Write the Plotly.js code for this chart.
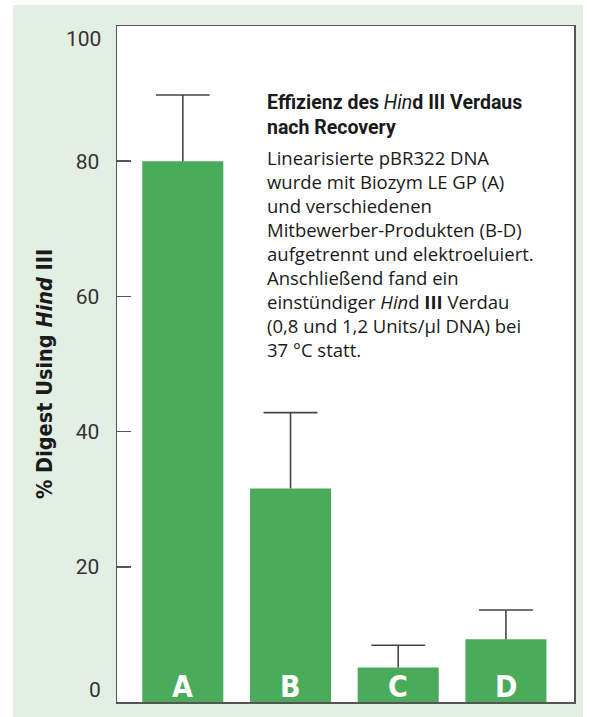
<!DOCTYPE html>
<html>
<head>
<meta charset="utf-8">
<script src="https://cdn.plot.ly/plotly-3.0.1.min.js"></script>
<style>
html,body{margin:0;padding:0;background:#fff;width:590px;height:717px;overflow:hidden;}
#chart{position:absolute;left:13px;top:5px;width:570px;height:712px;}
</style>
</head>
<body>
<div id="chart"></div>
<script>
// Data
var categories = ['A', 'B', 'C', 'D'];
var digestValues = [80.0, 31.6, 5.1, 9.3];
var errorPlus = [9.8, 11.2, 3.3, 4.3];
var tickValues = [20, 40, 60, 80];
var tickLabels = ['20', '40', '60', '80'];
var edgeTickValues = [0, 100];
var edgeTickLabels = ['0', '100'];
var yTitle = '% Digest Using <i>Hind</i> III';
var boxTitle = 'Effizienz des <i style="font-weight:normal">Hin</i>d III Verdaus<br>nach Recovery';
var boxText = 'Linearisierte pBR322 DNA<br>wurde mit Biozym LE GP (A)<br>und verschiedenen<br>Mitbewerber-Produkten (B-D)<br>aufgetrennt und elektroeluiert.<br>Anschließend fand ein<br>einstündiger <i>Hin</i>d <b>III</b> Verdau<br>(0,8 und 1,2 Units/µl DNA) bei<br>37 °C statt.';

var green = '#4aab5a';
var axisColor = '#555555';
var errColor = '#444444';
var tickFont = {family: 'Roboto, "Open Sans", sans-serif', size: 21, color: '#333333'};

// category index positions on a linear axis (needed for error-bar caps)
var xPos = categories.map(function(c, i){ return i; });
var tops = digestValues.map(function(v, i){ return v + errorPlus[i]; });

var barTrace = {
  type: 'bar',
  x: xPos,
  y: digestValues,
  width: 0.752,
  marker: {color: green, line: {width: 0}},
  error_y: {
    type: 'data',
    symmetric: false,
    array: errorPlus,
    arrayminus: categories.map(function(){return 0;}),
    color: errColor,
    thickness: 1.6,
    width: 0
  },
  hoverinfo: 'none'
};

// caps of the error bars (horizontal whiskers at the top)
var capTrace = {
  type: 'scatter',
  mode: 'markers',
  x: xPos,
  y: tops,
  marker: {size: 2, color: 'rgba(0,0,0,0)'},
  error_x: {
    visible: true,
    type: 'constant',
    value: 0.25,
    color: errColor,
    thickness: 1.6,
    width: 0
  },
  hoverinfo: 'none'
};

var annotations = [];
categories.forEach(function(c, i){
  annotations.push({
    x: xPos[i], y: 0, xref: 'x', yref: 'y',
    text: '<b>' + c + '</b>',
    showarrow: false, xanchor: 'center', yanchor: 'bottom', yshift: -4,
    font: {family: '"Liberation Sans Narrow", "DejaVu Sans Condensed", Roboto, sans-serif', size: 30, color: '#ffffff'}
  });
});
edgeTickValues.forEach(function(v, i){
  annotations.push({
    x: 0, y: v, xref: 'paper', yref: 'y',
    text: edgeTickLabels[i],
    showarrow: false, xanchor: 'right', yanchor: 'middle',
    xshift: -14, yshift: v === 0 ? 12 : -13,
    font: tickFont
  });
});
annotations.push({
  x: -0.16, y: 0.485, xref: 'paper', yref: 'paper',
  text: '<b>' + yTitle + '</b>',
  textangle: -90, showarrow: false, xanchor: 'center', yanchor: 'middle',
  font: {family: '"Liberation Sans Narrow", "DejaVu Sans Condensed", Roboto, sans-serif', size: 21.5, color: '#1a1a1a'}
});
annotations.push({
  x: 0.3239, y: (702 - 89) / 676, xref: 'paper', yref: 'paper',
  text: '<b>' + boxTitle + '</b>',
  showarrow: false, xanchor: 'left', yanchor: 'top', align: 'left',
  font: {family: 'Roboto, "Open Sans", sans-serif', size: 19.5, color: '#1a1a1a'}
});
annotations.push({
  x: 0.3239, y: (702 - 143) / 676, xref: 'paper', yref: 'paper',
  text: boxText,
  showarrow: false, xanchor: 'left', yanchor: 'top', align: 'left',
  font: {family: '"Open Sans", sans-serif', size: 18.5, color: '#1a1a1a'}
});

var layout = {
  width: 570, height: 712,
  margin: {l: 104, r: 9, t: 21, b: 15, pad: 0},
  paper_bgcolor: '#e4efe3',
  plot_bgcolor: '#ffffff',
  showlegend: false,
  xaxis: {
    type: 'linear',
    range: [-0.611, 3.632],
    showticklabels: false, ticks: '',
    showgrid: false, zeroline: false,
    showline: true, mirror: true, linecolor: axisColor, linewidth: 1.5
  },
  yaxis: {
    range: [0, 100],
    tickvals: tickValues, ticktext: tickLabels,
    ticks: 'inside', ticklen: 14, tickwidth: 1.5, tickcolor: axisColor,
    tickfont: tickFont,
    ticklabelstandoff: 12,
    showgrid: false, zeroline: false,
    showline: true, mirror: true, linecolor: axisColor, linewidth: 1.5
  },
  annotations: annotations
};

Plotly.newPlot('chart', [barTrace, capTrace], layout, {displayModeBar: false, staticPlot: true});
</script>
</body>
</html>
